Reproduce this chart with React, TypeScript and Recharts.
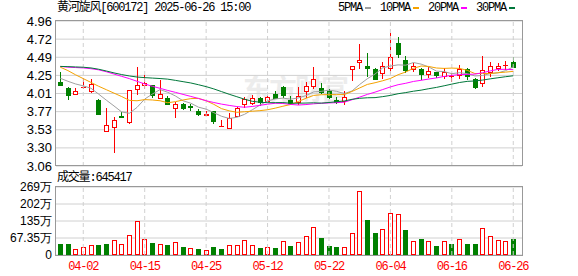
import { ComposedChart, Bar, Line, XAxis, YAxis, CartesianGrid, ReferenceLine } from "recharts";

const dates = [
  "03-28", "03-31", "04-01", "04-02", "04-03", "04-07", "04-08", "04-09", "04-10", "04-11",
  "04-14", "04-15", "04-16", "04-17", "04-18", "04-21", "04-22", "04-23", "04-24", "04-25",
  "04-28", "04-29", "04-30", "05-06", "05-07", "05-08", "05-09", "05-12", "05-13", "05-14",
  "05-15", "05-16", "05-19", "05-20", "05-21", "05-22", "05-23", "05-26", "05-27", "05-28",
  "05-29", "05-30", "06-03", "06-04", "06-05", "06-06", "06-09", "06-10", "06-11", "06-12",
  "06-13", "06-16", "06-17", "06-18", "06-19", "06-20", "06-23", "06-24", "06-25", "06-26",
];

const opens = [
  4.157, 4.077, 4.0, 4.095, 4.04, 3.925, 3.519, 3.567, 3.72, 3.633,
  4.07, 4.12, 4.12, 3.955, 3.947, 3.816, 3.873, 3.84, 3.78, 3.728,
  3.78, 3.58, 3.554, 3.715, 3.87, 3.89, 3.955, 3.912, 4.004, 4.1,
  3.925, 3.903, 4.047, 4.112, 4.086, 4.043, 3.925, 3.912, 4.327, 4.419,
  4.37, 4.331, 4.275, 4.34, 4.668, 4.449, 4.33, 4.331, 4.262, 4.288,
  4.243, 4.238, 4.253, 4.327, 4.196, 4.144, 4.296, 4.34, 4.378, 4.419,
];
const highs = [
  4.288, 4.099, 4.078, 4.21, 4.2, 3.94, 3.816, 3.706, 3.77, 4.06,
  4.36, 4.25, 4.125, 4.19, 3.98, 3.895, 3.88, 3.873, 3.807, 3.78,
  3.78, 3.663, 3.75, 3.837, 3.97, 3.99, 3.97, 3.977, 4.043, 4.108,
  3.977, 4.1, 4.165, 4.36, 4.144, 4.069, 3.96, 4.043, 4.37, 4.659,
  4.537, 4.348, 4.427, 4.8, 4.755, 4.5, 4.406, 4.348, 4.36, 4.29,
  4.348, 4.283, 4.384, 4.34, 4.217, 4.5, 4.427, 4.406, 4.436, 4.492,
];
const lows = [
  4.122, 3.937, 4.0, 4.08, 4.025, 3.738, 3.519, 3.24, 3.7, 3.62,
  4.004, 4.08, 3.97, 3.955, 3.868, 3.706, 3.807, 3.8, 3.728, 3.728,
  3.628, 3.58, 3.554, 3.715, 3.837, 3.868, 3.86, 3.912, 3.947, 3.968,
  3.868, 3.868, 3.968, 4.086, 4.013, 3.947, 3.882, 3.868, 4.19, 4.34,
  4.24, 4.2, 4.217, 4.275, 4.492, 4.296, 4.305, 4.196, 4.23, 4.23,
  4.21, 4.174, 4.217, 4.2, 4.086, 4.113, 4.243, 4.318, 4.331, 4.353,
];
const closes = [
  4.122, 3.99, 4.047, 4.1, 4.135, 3.738, 3.597, 3.663, 3.706, 4.052,
  4.12, 4.145, 3.99, 4.0, 3.875, 3.878, 3.825, 3.835, 3.742, 3.745,
  3.65, 3.585, 3.693, 3.816, 3.94, 3.947, 3.895, 3.96, 3.955, 3.99,
  3.88, 3.977, 4.108, 4.2, 4.026, 3.96, 3.895, 3.964, 4.37, 4.449,
  4.34, 4.2, 4.37, 4.492, 4.524, 4.318, 4.375, 4.266, 4.305, 4.253,
  4.288, 4.24, 4.331, 4.24, 4.1, 4.318, 4.37, 4.375, 4.38, 4.353,
];
const volumes = [
  436000, 438000, 238000, 304000, 384000, 396000, 436000, 594000, 436000, 780000,
  1335000, 634000, 475000, 436000, 396000, 515000, 317000, 277000, 238000, 198000,
  317000, 238000, 384000, 396000, 594000, 396000, 277000, 317000, 277000, 555000,
  357000, 515000, 740000, 1100000, 670000, 360000, 320000, 300000, 870000, 2535000,
  1390000, 880000, 1030000, 1660000, 1620000, 990000, 550000, 630000, 550000, 360000,
  550000, 440000, 630000, 440000, 440000, 1070000, 740000, 590000, 550000, 645417,
];

const ma5 = [
  4.21, 4.17, 4.135, 4.11, 4.079, 4.002, 3.923, 3.847, 3.768, 3.751,
  3.828, 3.937, 4.003, 4.061, 4.026, 3.978, 3.914, 3.883, 3.831, 3.805,
  3.759, 3.712, 3.683, 3.698, 3.737, 3.796, 3.858, 3.912, 3.939, 3.949,
  3.936, 3.952, 3.982, 4.031, 4.038, 4.054, 4.038, 4.009, 4.043, 4.128,
  4.204, 4.265, 4.346, 4.37, 4.385, 4.381, 4.416, 4.395, 4.358, 4.303,
  4.297, 4.27, 4.283, 4.27, 4.24, 4.246, 4.272, 4.281, 4.309, 4.359,
];
const ma10 = [
  4.355, 4.31, 4.255, 4.205, 4.155, 4.105, 4.06, 4.015, 3.97, 3.92,
  3.915, 3.93, 3.925, 3.915, 3.889, 3.903, 3.925, 3.943, 3.946, 3.915,
  3.868, 3.812, 3.783, 3.764, 3.771, 3.778, 3.785, 3.797, 3.818, 3.843,
  3.866, 3.905, 3.947, 3.985, 3.994, 3.995, 3.995, 3.996, 4.037, 4.083,
  4.129, 4.151, 4.177, 4.207, 4.256, 4.292, 4.34, 4.37, 4.364, 4.344,
  4.339, 4.343, 4.339, 4.314, 4.272, 4.272, 4.271, 4.282, 4.29, 4.3,
];
const ma20 = [
  4.365, 4.355, 4.35, 4.345, 4.335, 4.32, 4.295, 4.265, 4.235, 4.205,
  4.17, 4.135, 4.104, 4.078, 4.05, 4.025, 3.998, 3.972, 3.945, 3.915,
  3.892, 3.871, 3.854, 3.839, 3.83, 3.84, 3.855, 3.87, 3.882, 3.879,
  3.867, 3.859, 3.865, 3.875, 3.882, 3.886, 3.89, 3.896, 3.928, 3.963,
  3.998, 4.028, 4.062, 4.096, 4.125, 4.144, 4.168, 4.183, 4.2, 4.214,
  4.234, 4.247, 4.258, 4.26, 4.264, 4.282, 4.306, 4.326, 4.327, 4.322,
];
const ma30 = [
  4.365, 4.362, 4.358, 4.354, 4.345, 4.328, 4.305, 4.28, 4.258, 4.24,
  4.226, 4.218, 4.212, 4.206, 4.198, 4.182, 4.165, 4.148, 4.125, 4.1,
  4.07, 4.035, 4.0, 3.968, 3.935, 3.908, 3.895, 3.89, 3.89, 3.891,
  3.883, 3.883, 3.885, 3.888, 3.884, 3.892, 3.902, 3.912, 3.934, 3.947,
  3.954, 3.956, 3.969, 3.985, 4.007, 4.022, 4.04, 4.054, 4.073, 4.09,
  4.111, 4.133, 4.154, 4.169, 4.174, 4.186, 4.202, 4.216, 4.23, 4.242,
];

// close of the day before the first candle (only decides the first volume colour)
const PREV_CLOSE = 4.18;

const maKeys = ["ma5", "ma10", "ma20", "ma30"];
const maNames = ["5PMA", "10PMA", "20PMA", "30PMA"];
const maColors = ["#a0a0a0", "#f5a200", "#ff00ff", "#00773a"];

const tickDates = ["04-02", "04-15", "04-25", "05-12", "05-22", "06-04", "06-16", "06-26"];
const priceTicks = [3.06, 3.2975, 3.535, 3.7725, 4.01, 4.2475, 4.485, 4.7225, 4.96];
const priceTickLabels = ["3.06", "3.30", "3.53", "3.77", "4.01", "4.25", "4.49", "4.72", "4.96"];
const volTicks = [0, 673500, 1347000, 2020500, 2694000];
const volTickLabels = ["0", "67.35万", "135万", "202万", "269万"];

const UP = "#ff0000";
const DOWN = "#008000";
const GRID = "#d0d0d0";
const MONO = "'Liberation Mono', 'Noto Sans CJK SC', monospace";
const SANS = "'Liberation Sans', Arial, sans-serif";

const data = dates.map((date, i) => ({
  date,
  open: opens[i],
  high: highs[i],
  low: lows[i],
  close: closes[i],
  range: [lows[i], highs[i]],
  volume: volumes[i],
  volUp: closes[i] >= (i > 0 ? closes[i - 1] : PREV_CLOSE),
  ma5: ma5[i],
  ma10: ma10[i],
  ma20: ma20[i],
  ma30: ma30[i],
}));

const xPad = { left: 0.4, right: 4.9 };

function Candle(props: any) {
  const { x, y, width, height, payload } = props;
  const { open, close, high, low } = payload;
  const top = Math.min(y, y + height);
  const h = Math.abs(height);
  const toY = (v: number) => (high === low ? top : top + ((high - v) / (high - low)) * h);
  const cx = Math.round(x + width / 2);
  const up = close >= open;
  const color = up ? UP : DOWN;
  const yHigh = Math.round(top);
  const yLow = Math.round(top + h);
  const yTop = Math.round(toY(Math.max(open, close)));
  const yBot = Math.round(toY(Math.min(open, close)));

  let body;
  if (yBot - yTop < 1) {
    body = <line x1={cx - 2} x2={cx + 3} y1={yTop + 0.5} y2={yTop + 0.5} stroke={color} />;
  } else if (up) {
    body = (
      <rect x={cx - 1.5} y={yTop + 0.5} width={4} height={yBot - yTop} fill="#fff" stroke={color} />
    );
  } else {
    body = <rect x={cx - 2} y={yTop} width={5} height={yBot - yTop + 1} fill={color} />;
  }

  return (
    <g>
      <line x1={cx + 0.5} x2={cx + 0.5} y1={yHigh} y2={yLow + 1} stroke={color} />
      {body}
    </g>
  );
}

function VolBar(props: any) {
  const { x, y, width, height, payload } = props;
  const cx = Math.round(x + width / 2);
  const top = Math.round(y);
  const bottom = Math.round(y + height);
  if (payload.volUp) {
    return (
      <rect x={cx - 1.5} y={top + 0.5} width={4} height={Math.max(0, bottom - top - 1)} fill="#fff" stroke={UP} />
    );
  }
  return <rect x={cx - 2} y={top} width={5} height={bottom - top} fill={DOWN} />;
}

function DateTick(props: any) {
  const { x, y, payload } = props;
  return (
    <text x={x} y={y} dy="0.71em" textAnchor="middle" fill={UP} fontSize={12} fontFamily={MONO} style={{ letterSpacing: "-1.2px" }}>
      {payload.value}
    </text>
  );
}

export default function App() {
  const lastVolume = volumes[volumes.length - 1];
  return (
    <div style={{ position: "relative", width: 578, height: 276, background: "#fff", overflow: "hidden" }}>
      <style>{`body{margin:0}`}</style>

      <div
        style={{
          position: "absolute", left: 243, top: 72, fontSize: 28, fontWeight: "bold",
          color: "#ececec", fontFamily: "'Noto Sans CJK SC', sans-serif", letterSpacing: "-2px", lineHeight: "32px",
        }}
      >
        东方财富
      </div>

      <div style={{ position: "absolute", left: 57, top: 1, fontSize: 12, lineHeight: "14px", fontFamily: MONO, letterSpacing: "-1.2px", color: "#000" }}>
        黄河旋风[600172] 2025-06-26 15:00
      </div>

      <div style={{ position: "absolute", left: 338, top: 1, display: "flex", alignItems: "center", fontSize: 12, lineHeight: "14px", fontFamily: MONO, letterSpacing: "-1.2px", color: "#000" }}>
        {maNames.map((name, i) => (
          <span key={name} style={{ display: "flex", alignItems: "center" }}>
            <span>{name}</span>
            <span style={{ display: "inline-block", width: 6, height: 2, background: maColors[i], margin: "0 9px 0 3px" }} />
          </span>
        ))}
      </div>

      <div style={{ position: "absolute", left: 57, top: 171, fontSize: 12, lineHeight: "14px", fontFamily: MONO, letterSpacing: "-1.2px", color: "#000" }}>
        成交量:{lastVolume}
      </div>

      <div style={{ position: "absolute", left: 0, top: 0 }}>
        <ComposedChart width={578} height={176} data={data} margin={{ top: 21, right: 56, bottom: 10, left: 0 }}>
          <CartesianGrid vertical={false} stroke={GRID} />
          <XAxis dataKey="date" hide padding={xPad} />
          <YAxis
            type="number"
            domain={[3.06, 4.96]}
            allowDataOverflow
            ticks={priceTicks}
            interval={0}
            width={56}
            tickLine={false}
            axisLine={false}
            tickSize={0}
            tickMargin={4}
            tick={{ fontSize: 13, fill: "#000", fontFamily: SANS }}
            tickFormatter={(v: number) => priceTickLabels[priceTicks.indexOf(v)]}
          />
          {tickDates.map((d) => (
            <ReferenceLine key={d} x={d} stroke={GRID} strokeDasharray="4 3" />
          ))}
          <Bar dataKey="range" barSize={5} shape={Candle} isAnimationActive={false} />
          {maKeys.map((k, i) => (
            <Line
              key={k}
              dataKey={k}
              stroke={maColors[i]}
              strokeWidth={1}
              dot={false}
              activeDot={false}
              type="linear"
              isAnimationActive={false}
            />
          ))}
        </ComposedChart>
      </div>

      <div style={{ position: "absolute", left: 0, top: 0 }}>
        <ComposedChart width={578} height={276} data={data} margin={{ top: 187, right: 56, bottom: 0, left: 0 }}>
          <CartesianGrid vertical={false} stroke={GRID} />
          <XAxis
            dataKey="date"
            ticks={tickDates}
            interval={0}
            height={21}
            padding={xPad}
            tickLine={false}
            axisLine={false}
            tickSize={0}
            tickMargin={6}
            tick={<DateTick />}
          />
          <YAxis
            type="number"
            domain={[0, 2694000]}
            allowDataOverflow
            ticks={volTicks}
            interval={0}
            width={56}
            tickLine={false}
            axisLine={false}
            tickSize={0}
            tickMargin={4}
            tick={{ fontSize: 12, fill: "#000", fontFamily: SANS }}
            tickFormatter={(v: number) => volTickLabels[volTicks.indexOf(v)]}
          />
          {tickDates.map((d) => (
            <ReferenceLine key={d} x={d} stroke={GRID} strokeDasharray="4 3" />
          ))}
          <Bar dataKey="volume" barSize={5} shape={VolBar} isAnimationActive={false} />
        </ComposedChart>
      </div>

      <div style={{ position: "absolute", left: 55, top: 20, width: 468, height: 146, boxSizing: "border-box", border: "1px solid #999", pointerEvents: "none" }} />
      <div style={{ position: "absolute", left: 55, top: 186, width: 468, height: 70, boxSizing: "border-box", border: "1px solid #999", pointerEvents: "none" }} />
    </div>
  );
}
